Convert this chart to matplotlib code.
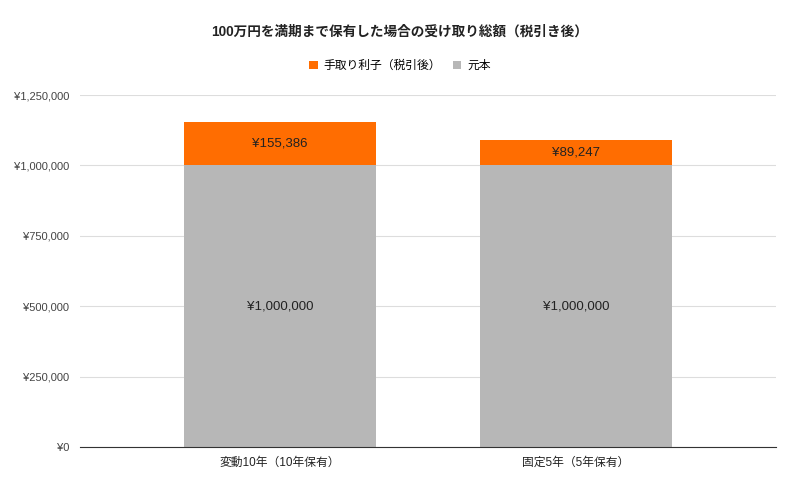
import matplotlib.pyplot as plt
from matplotlib.ticker import FuncFormatter

plt.rcParams['font.family'] = ['Liberation Sans', 'Noto Sans CJK JP', 'DejaVu Sans']

categories = ["変動10年（10年保有）", "固定5年（5年保有）"]
principal = [1000000, 1000000]
interest = [155386, 89247]
series_names = ["手取り利子（税引後）", "元本"]
yticks = [0, 250000, 500000, 750000, 1000000, 1250000]

ORANGE = "#ff6d01"
GRAY = "#b7b7b7"


def yen(v, pos=None):
    return "¥{:,.0f}".format(v)


fig = plt.figure(figsize=(8, 4.93), dpi=100)
ax = fig.add_axes([0.1, 0.0933, 0.87, 0.714])

x = list(range(len(categories)))
b1 = ax.bar(x, principal, width=0.65, color=GRAY, label=series_names[1], zorder=2)
b2 = ax.bar(x, interest, width=0.65, bottom=principal, color=ORANGE,
            label=series_names[0], zorder=2)

for i in x:
    ax.text(i, principal[i] / 2, yen(principal[i]), ha="center", va="center",
            fontsize=9.5, color="#222222", zorder=3)
    ax.text(i, principal[i] + interest[i] / 2, yen(interest[i]), ha="center",
            va="center", fontsize=9.5, color="#222222", zorder=3)

ax.set_xlim(-0.676, 1.676)
ax.set_ylim(0, 1250000)
ax.set_yticks(yticks)
ax.yaxis.set_major_formatter(FuncFormatter(yen))
ax.set_xticks(x)
ax.set_xticklabels(categories, fontsize=8.5, color="#222222")
ax.tick_params(axis="y", labelsize=8, colors="#444444", length=0, pad=8)
ax.tick_params(axis="x", length=0, pad=7)
ax.grid(axis="y", color="#dddddd", linewidth=0.8, zorder=0)
for s in ["top", "right", "left"]:
    ax.spines[s].set_visible(False)
ax.spines["bottom"].set_color("#333333")
ax.spines["bottom"].set_zorder(4)

fig.text(0.5, 0.935, "100万円を満期まで保有した場合の受け取り総額（税引き後）",
         ha="center", va="center", fontsize=9.8, fontweight="bold", color="#222222")

handles = [b2, b1]
fig.legend(handles, series_names, loc="center", bbox_to_anchor=(0.5, 0.866),
           ncol=2, frameon=False, fontsize=8.5, handlelength=0.7, handleheight=0.7,
           handletextpad=0.5, columnspacing=1.0)

fig.savefig("out.png", dpi=100)
